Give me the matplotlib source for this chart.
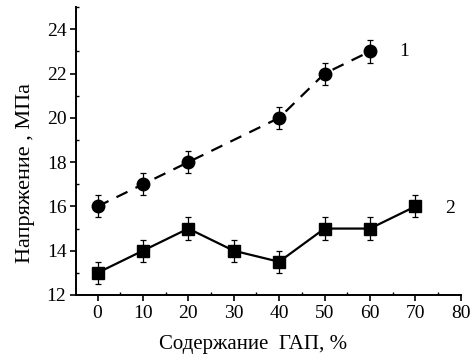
import matplotlib
matplotlib.use('Agg')
import matplotlib.pyplot as plt
from matplotlib.ticker import MultipleLocator

# series 1 (dashed, circles)
x1 = [0, 10, 20, 40, 50, 60]
y1 = [16, 17, 18, 20, 22, 23]
err1 = [0.5, 0.5, 0.5, 0.5, 0.5, 0.5]

# series 2 (solid, squares)
x2 = [0, 10, 20, 30, 40, 50, 60, 70]
y2 = [13, 14, 15, 14, 13.5, 15, 15, 16]
err2 = [0.5, 0.5, 0.5, 0.5, 0.5, 0.5, 0.5, 0.5]

plt.rcParams['font.family'] = ['Liberation Serif', 'DejaVu Serif']

fig = plt.figure(figsize=(4.76, 3.58), dpi=100)
ax = fig.add_axes([0.16, 0.176, 0.808, 0.804])

ax.errorbar(x1, y1, yerr=err1, fmt='o', color='black', ms=9,
            ecolor='black', elinewidth=0.9, capsize=2.5, capthick=0.9,
            linestyle=(0, (5.5, 4)), linewidth=1.6)
ax.errorbar(x2, y2, yerr=err2, fmt='s', color='black', ms=8,
            ecolor='black', elinewidth=0.9, capsize=2.5, capthick=0.9,
            linestyle='-', linewidth=1.6)

ax.text(66.5, 23, '1', fontsize=14, va='center', ha='left')
ax.text(76.5, 15.9, '2', fontsize=14, va='center', ha='left')

ax.set_xlim(-4.7, 80)
ax.set_ylim(12, 25)
ax.xaxis.set_major_locator(MultipleLocator(10))
ax.xaxis.set_minor_locator(MultipleLocator(5))
ax.yaxis.set_major_locator(MultipleLocator(2))
ax.yaxis.set_minor_locator(MultipleLocator(1))

for s in ['top', 'right']:
    ax.spines[s].set_visible(False)
for s in ['left', 'bottom']:
    ax.spines[s].set_linewidth(1.4)

ax.tick_params(which='major', direction='out', length=4, width=1.2,
               labelsize=14, pad=3)
ax.tick_params(which='minor', direction='in', length=2.5, width=1.0)

ax.set_xlabel('Содержание  ГАП, %', fontsize=15)
ax.set_ylabel('Напряжение , МПа', fontsize=16)
ax.xaxis.set_label_coords(0.46, -0.14)
ax.yaxis.set_label_coords(-0.108, 0.424)

plt.savefig('out.png', dpi=100)
